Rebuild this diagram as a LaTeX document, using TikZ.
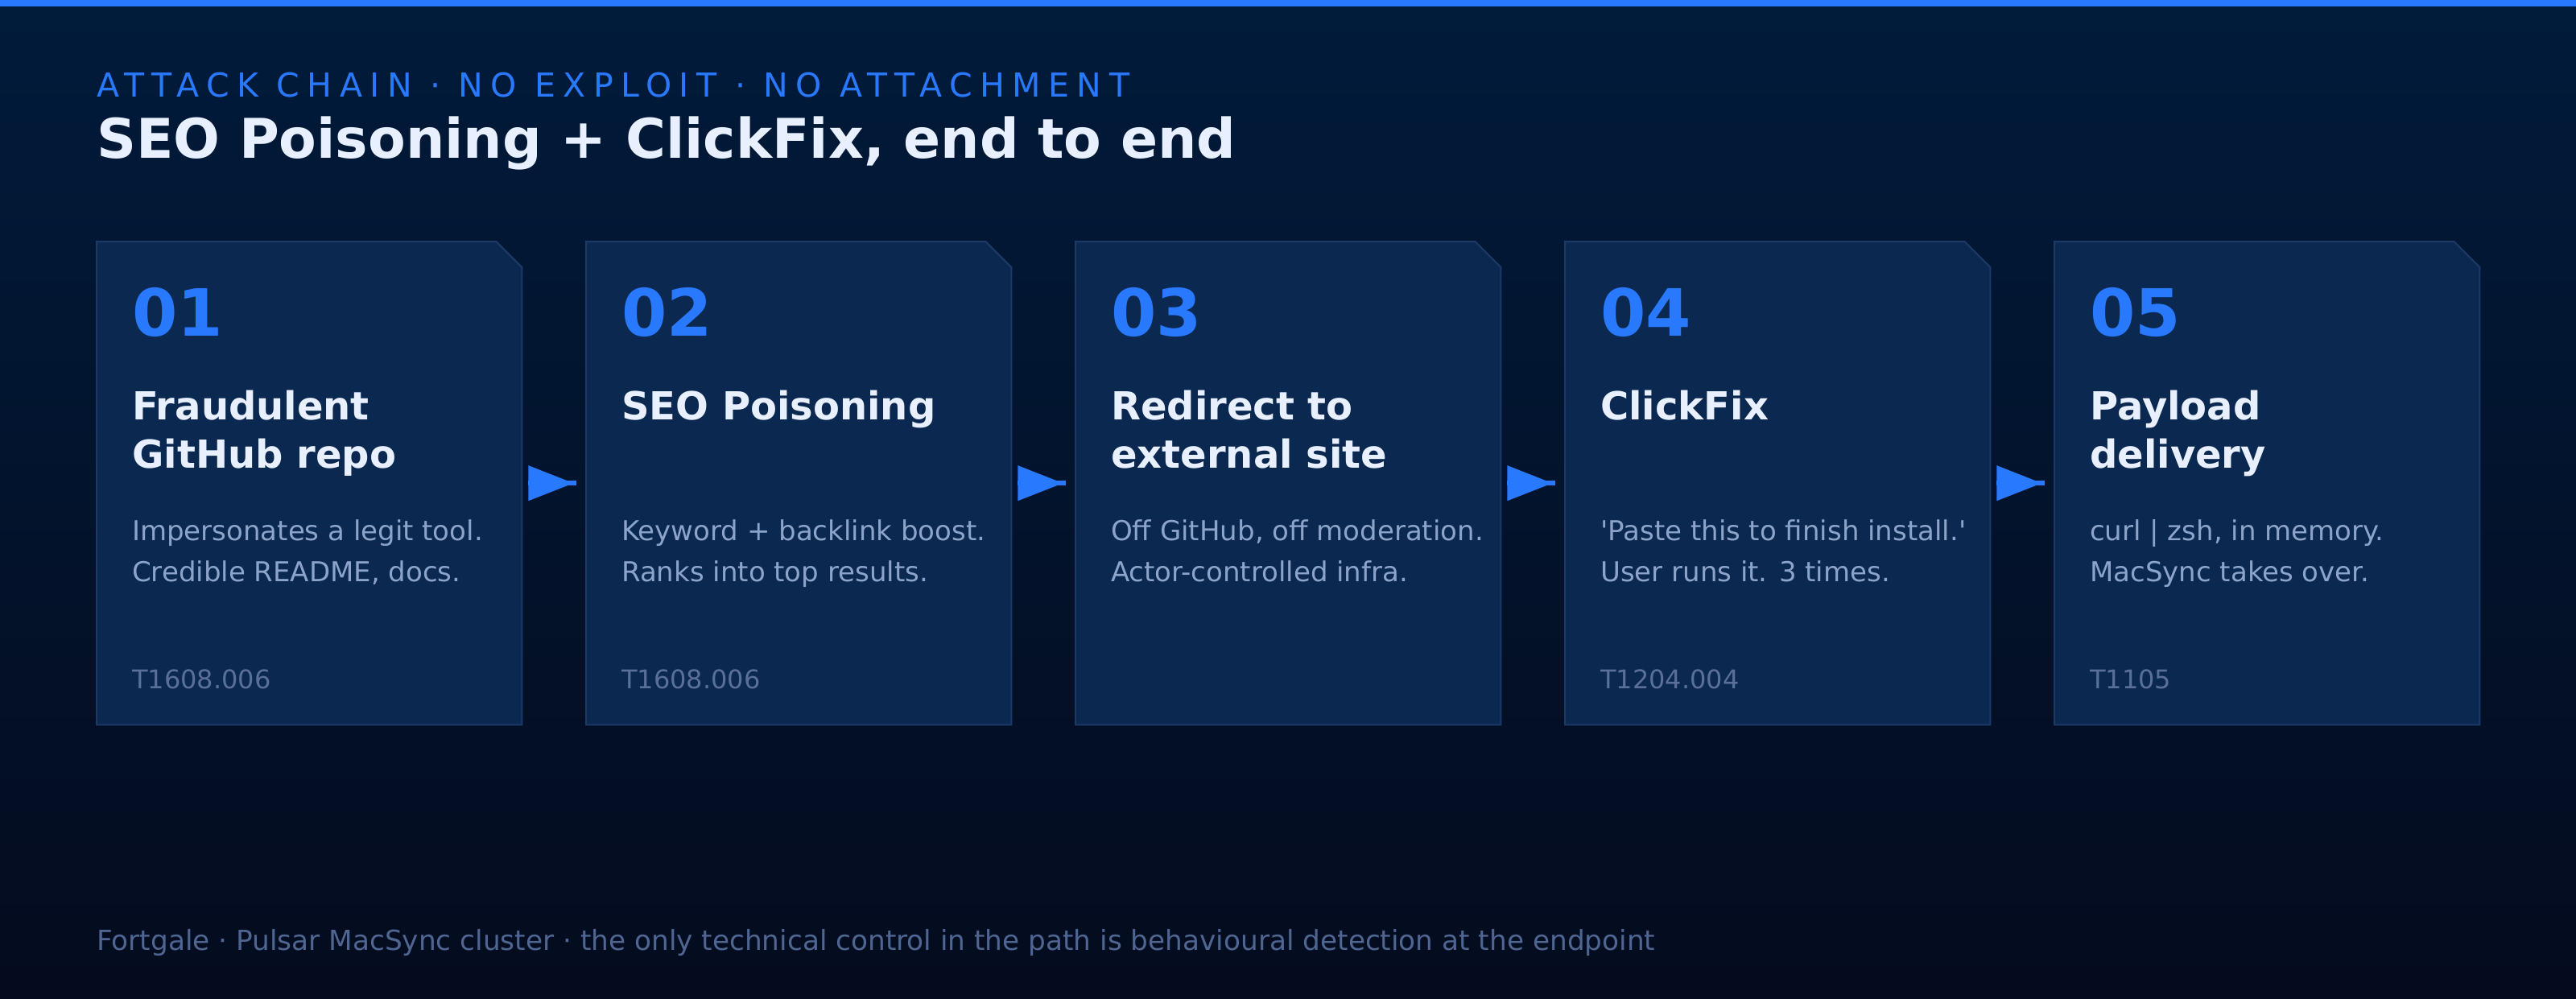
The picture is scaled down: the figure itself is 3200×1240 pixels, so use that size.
\documentclass[tikz,border=0pt]{standalone}
\usepackage{fontspec}
\setmainfont{DejaVu Sans}
\usetikzlibrary{calc}
\definecolor{bgtop}{HTML}{011B3B}
\definecolor{bgbot}{HTML}{040B1E}
\definecolor{accent}{HTML}{2979FF}
\definecolor{cardfill}{HTML}{0A2850}
\definecolor{cardline}{HTML}{1D3A66}
\definecolor{titletxt}{HTML}{E8F0FF}
\definecolor{desctxt}{HTML}{8DA4CA}
\definecolor{codetxt}{HTML}{5A709A}
\definecolor{foottxt}{HTML}{4F6592}
\newcommand\twolines[2]{\vtop{\hbox{#1}\hbox{#2}}}
\tikzset{
  cardbox/.style={minimum width=528pt, minimum height=600pt, inner sep=0pt, anchor=north west},
  txt/.style={inner sep=0pt, anchor=base west},
  numtxt/.style={txt, text=accent, font=\bfseries\fontsize{81}{96}\selectfont},
  ttltxt/.style={txt, text=titletxt, font=\bfseries\fontsize{48}{60}\selectfont},
  dsctxt/.style={txt, text=desctxt, font=\fontsize{34}{51}\selectfont},
  codtxt/.style={txt, text=codetxt, font=\fontsize{32}{36}\selectfont},
  flowline/.style={draw=accent, line width=6pt},
}
\newcommand\stagecard[6]{%
  \node[cardbox] (#1) at (#2,300) {};
  \fill[cardfill, draw=cardline, line width=2pt]
    (#1.north west) -- ($(#1.north east)+(-32,0)$) -- ($(#1.north east)+(0,32)$)
    -- (#1.south east) -- (#1.south west) -- cycle;
  \node[numtxt] (#1n) at ($(#1.north west)+(44,117)$) {#3};
  \node[ttltxt] (#1t) at ($(#1.north west)+(44,221)$) {#4};
  \node[dsctxt] (#1d) at ($(#1.north west)+(44,371)$) {#5};
  #6
}
\begin{document}
\begin{tikzpicture}[x=1pt, y=-1pt]
\useasboundingbox (0,0) rectangle (3200,1240);
\shade[top color=bgtop, bottom color=bgbot] (0,0) rectangle (3200,1240);
\fill[accent] (0,0) rectangle (3200,8);
\node[txt, text=accent, font=\fontsize{41}{48}\selectfont\addfontfeature{LetterSpace=23}] (sub) at (120,120) {ATTACK CHAIN · NO EXPLOIT · NO ATTACHMENT};
\node[txt, text=titletxt, font=\bfseries\fontsize{68}{80}\selectfont] (head) at (120,196) {SEO Poisoning + ClickFix, end to end};

\stagecard{c1}{120}{01}{\twolines{Fraudulent}{GitHub repo}}{\twolines{Impersonates a legit tool.}{Credible README, docs.}}{\node[codtxt] (c1c) at ($(c1.north west)+(44,555)$) {T1608.006};}
\stagecard{c2}{728}{02}{SEO Poisoning}{\twolines{Keyword + backlink boost.}{Ranks into top results.}}{\node[codtxt] (c2c) at ($(c2.north west)+(44,555)$) {T1608.006};}
\stagecard{c3}{1336}{03}{\twolines{Redirect to}{external site}}{\twolines{Off GitHub, off moderation.}{Actor-controlled infra.}}{}
\stagecard{c4}{1944}{04}{ClickFix}{\twolines{\textquotesingle Paste this to finish install.\textquotesingle}{User runs it. 3 times.}}{\node[codtxt] (c4c) at ($(c4.north west)+(44,555)$) {T1204.004};}
\stagecard{c5}{2552}{05}{\twolines{Payload}{delivery}}{\twolines{curl | zsh, in memory.}{MacSync takes over.}}{\node[codtxt] (c5c) at ($(c5.north west)+(44,555)$) {T1105};}

\foreach \a/\b in {c1/c2,c2/c3,c3/c4,c4/c5}{
  \draw[flowline] ($(\a.east)+(8,0)$) -- ($(\b.west)+(-12,0)$);
  \fill[accent] ($(\a.east)+(8,-22)$) -- ($(\a.east)+(64,0)$) -- ($(\a.east)+(8,22)$) -- cycle;
}

\node[txt, text=foottxt, font=\fontsize{34.3}{40}\selectfont] (foot) at (120,1180) {Fortgale · Pulsar MacSync cluster · the only technical control in the path is behavioural detection at the endpoint};
\end{tikzpicture}
\end{document}
